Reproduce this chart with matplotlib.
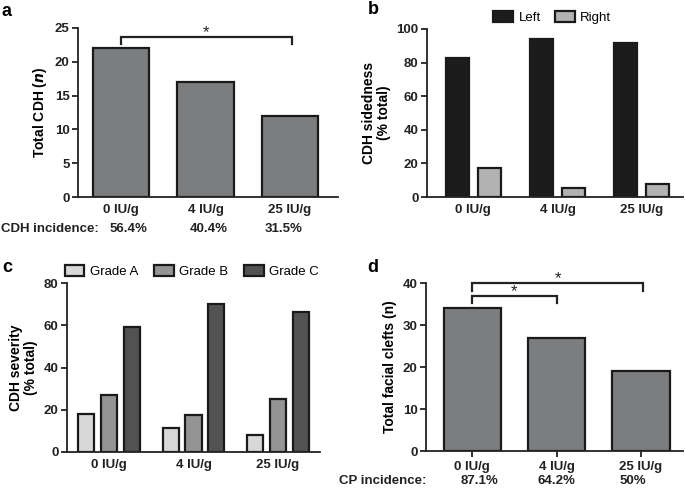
import matplotlib
matplotlib.use('Agg')
from matplotlib import pyplot as plt
import numpy as np

plt.rcParams['font.family'] = ['Liberation Sans', 'DejaVu Sans']
plt.rcParams['font.size'] = 9.5

doses = ['0 IU/g', '4 IU/g', '25 IU/g']

# a
cdh_total = [22, 17, 12]
cdh_incidence = ['56.4%', '40.4%', '31.5%']

# b
side_names = ['Left', 'Right']
side_left = [82.5, 94, 91.5]
side_right = [17, 5.5, 8]

# c
grade_names = ['Grade A', 'Grade B', 'Grade C']
grade_a = [18, 11.5, 8]
grade_b = [27, 17.5, 25]
grade_c = [59, 70, 66.5]

# d
clefts_total = [34, 27, 19]
cp_incidence = ['87.1%', '64.2%', '50%']

W, H = 685, 488
INK = '#222222'
fig = plt.figure(figsize=(W / 100, H / 100), dpi=100)


def px_axes(l, t, r, b):
    return fig.add_axes([l / W, 1 - b / H, (r - l) / W, (b - t) / H])


def style(ax, xticks=False):
    for s in ['top', 'right']:
        ax.spines[s].set_visible(False)
    for s in ['left', 'bottom']:
        ax.spines[s].set_linewidth(1.3)
        ax.spines[s].set_color(INK)
    ax.tick_params(axis='y', width=1.3, length=4, labelsize=9.5, pad=2, colors=INK)
    ax.tick_params(axis='x', width=1.3, length=4 if xticks else 0, labelsize=9.5,
                   pad=3 if xticks else 5, colors=INK)
    for lab in ax.get_xticklabels() + ax.get_yticklabels():
        lab.set_fontweight('bold')


def bracket(ax, x0, x1, y, drop, star_dx=0.0):
    ax.plot([x0, x0, x1, x1], [y - drop, y, y, y - drop], color=INK,
            lw=1.6, clip_on=False, solid_joinstyle='miter')
    ax.annotate('*', ((x0 + x1) / 2 + star_dx, y), xytext=(0, -2.5),
                textcoords='offset points', ha='center', va='bottom',
                fontsize=12, color=INK, annotation_clip=False)


def incidence_row(ax, label, label_x, values, xs, y):
    ax.text(label_x, y, label, ha='right', va='center', fontweight='bold',
            clip_on=False, color=INK)
    for xv, t in zip(xs, values):
        ax.text(xv, y, t, ha='center', va='center', fontweight='bold',
                clip_on=False, color=INK)


x = np.arange(len(doses))
edge = dict(edgecolor='#1a1a1a', linewidth=1.6)
leg_kw = dict(frameon=False, handlelength=1.5, handleheight=0.9, handletextpad=0.4,
              fontsize=9.5, borderaxespad=0)

# ---- panel a
ax = px_axes(78, 28, 338, 197)
ax.bar(x, cdh_total, width=0.67, color='#7c7d7f', **edge)
ax.set_xlim(-0.51, 2.57)
ax.set_ylim(0, 25)
ax.set_yticks(range(0, 26, 5))
ax.set_xticks(x)
ax.set_xticklabels(doses)
ax.set_ylabel('Total CDH ($\\mathbfit{n}$)', fontweight='bold', fontsize=10, labelpad=4)
style(ax)
bracket(ax, 0, 2.02, 23.7, 1.1)
incidence_row(ax, 'CDH incidence:', -0.27, cdh_incidence, [0.09, 1.035, 1.93], -4.75)

# ---- panel b
ax = px_axes(427, 29, 683, 197)
bw = 0.27
ax.bar(x - 0.19, side_left, width=bw, color='#1c1c1c', label=side_names[0], **edge)
ax.bar(x + 0.19, side_right, width=bw, color='#b2b2b2', label=side_names[1], **edge)
ax.set_xlim(-0.55, 2.49)
ax.set_ylim(0, 100)
ax.set_yticks(range(0, 101, 20))
ax.set_xticks(x)
ax.set_xticklabels(doses)
ax.set_ylabel('CDH sidedness\n(% total)', fontweight='bold', fontsize=10, labelpad=4,
              linespacing=1.1)
style(ax)
ax.legend(ncol=2, loc='lower center', bbox_to_anchor=(0.49, 1.0), columnspacing=1.1,
          **leg_kw)

# ---- panel c
ax = px_axes(67, 283, 320, 452)
bw = 0.19
ax.bar(x - 0.27, grade_a, width=bw, color='#d8d8d8', label=grade_names[0], **edge)
ax.bar(x, grade_b, width=bw, color='#949494', label=grade_names[1], **edge)
ax.bar(x + 0.27, grade_c, width=bw, color='#525252', label=grade_names[2], **edge)
ax.set_xlim(-0.5, 2.5)
ax.set_ylim(0, 80)
ax.set_yticks(range(0, 81, 20))
ax.set_xticks(x)
ax.set_xticklabels(doses)
ax.set_ylabel('CDH severity\n(% total)', fontweight='bold', fontsize=10, labelpad=4,
              linespacing=1.1)
style(ax)
ax.legend(ncol=3, loc='lower left', bbox_to_anchor=(-0.03, 1.0), columnspacing=1.2,
          **leg_kw)

# ---- panel d
ax = px_axes(426, 283, 683, 451)
ax.bar(x, clefts_total, width=0.68, color='#7c7d7f', **edge)
ax.set_xlim(-0.55, 2.5)
ax.set_ylim(0, 40)
ax.set_yticks(range(0, 41, 10))
ax.set_xticks(x)
ax.set_xticklabels(doses)
ax.set_ylabel('Total facial clefts (n)', fontweight='bold', fontsize=10, labelpad=4)
style(ax, xticks=True)
bracket(ax, 0, 2.03, 40, 1.8)
bracket(ax, 0, 1.0, 37.0, 1.8)
incidence_row(ax, 'CP incidence:', -0.54, cp_incidence, [0.08, 1.0, 1.9], -7.2)

# panel letters
for lx, ly, s in [(2, 12, 'a'), (368, 10, 'b'), (2, 268, 'c'), (367, 267, 'd')]:
    fig.text(lx / W, 1 - ly / H, s, fontsize=13, fontweight='bold', va='center', ha='left')

fig.savefig('out.png', dpi=100)
